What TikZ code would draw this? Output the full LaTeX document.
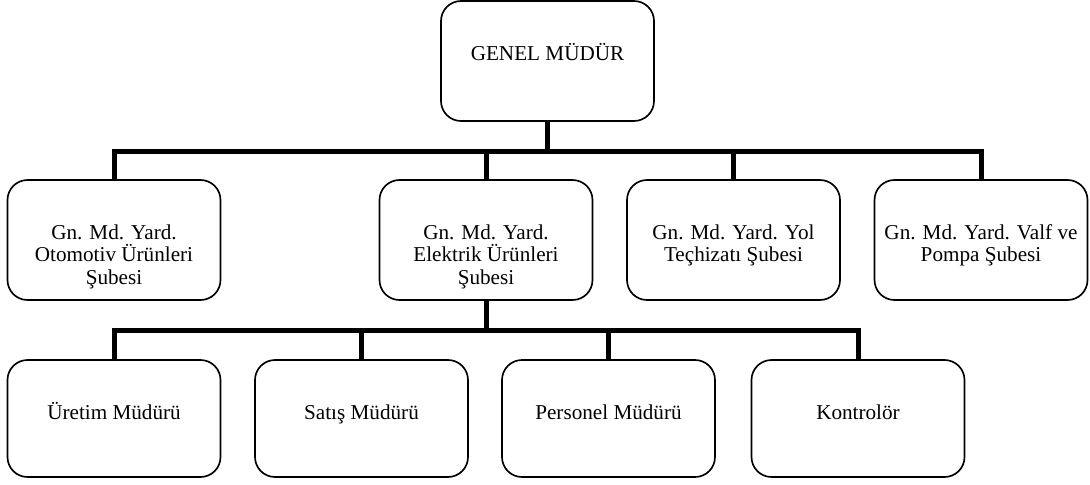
\documentclass[tikz,border=0pt]{standalone}
\usepackage{fontspec}
\setmainfont{Liberation Serif}
\newcommand{\toprow}{\rule{0pt}{11.5pt}}
\tikzset{
  unitbox/.style={draw, line width=1pt, rounded corners=12pt, minimum width=127.8pt, minimum height=72pt, inner sep=0pt},
  lowbox/.style={unitbox, minimum height=70.2pt},
  unittext/.style={anchor=north, yshift=-24.2pt, align=center, inner sep=0pt,
    font=\fontsize{12.7}{13.5}\selectfont},
  branch/.style={line width=3pt, line join=miter}
}
\begin{document}
\begin{tikzpicture}[x=0.6pt, y=-0.6pt]
\useasboundingbox (0,0) rectangle (1090,484);
% top
\node[unitbox, label={[unittext]north:\toprow GENEL MÜDÜR}] (gm) at (547.5,61) {};
% deputies
\node[unitbox, label={[unittext]north:\toprow Gn. Md. Yard.\\Otomotiv Ürünleri\\Şubesi}] (oto) at (114,240) {};
\node[unitbox, label={[unittext]north:\toprow Gn. Md. Yard.\\Elektrik Ürünleri\\Şubesi}] (elk) at (486,240) {};
\node[unitbox, label={[unittext]north:\toprow Gn. Md. Yard. Yol\\Teçhizatı Şubesi}] (yol) at (733.5,240) {};
\node[unitbox, label={[unittext]north:\toprow Gn. Md. Yard. Valf ve\\Pompa Şubesi}] (valf) at (981,240) {};
% managers
\node[lowbox, label={[unittext]north:\toprow Üretim Müdürü}] (uretim) at (114,418.5) {};
\node[lowbox, label={[unittext]north:\toprow Satış Müdürü}] (satis) at (361.5,418.5) {};
\node[lowbox, label={[unittext]north:\toprow Personel Müdürü}] (personel) at (608.5,418.5) {};
\node[lowbox, label={[unittext]north:\toprow Kontrolör}] (kontrol) at (858,418.5) {};
% connectors
\coordinate (bus1) at (547.5,151);
\coordinate (bus2) at (486,330);
\draw[branch] (gm.south) -- (bus1);
\foreach \n in {oto,elk,yol,valf}
  \draw[branch] (bus1) -| (\n.north);
\draw[branch] (elk.south) -- (bus2);
\foreach \n in {uretim,satis,personel,kontrol}
  \draw[branch] (bus2) -| (\n.north);
\end{tikzpicture}
\end{document}
